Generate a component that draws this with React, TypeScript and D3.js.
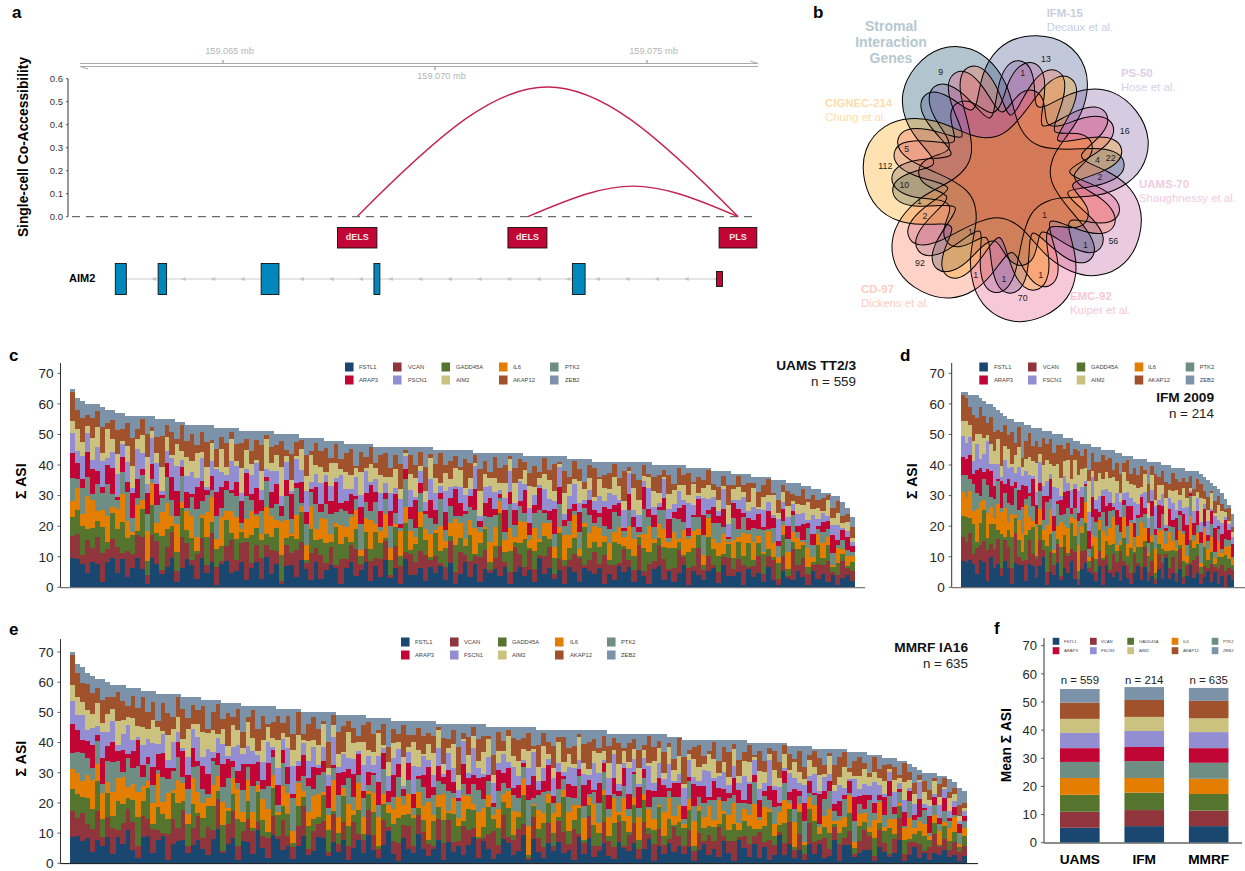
import React from "react";
import * as d3 from "d3";

const genes = ["FSTL1","VCAN","GADD45A","IL6","PTK2","ARAP3","FSCN1","AIM2","AKAP12","ZEB2"];
const geneColors = ["#1A476F","#90353B","#55752F","#E37E00","#6E8E84","#C10534","#938DD2","#CAC27E","#A0522D","#7B92A8"];

// Panels c, d, e: the totals are read from the outline of the bars, with fewer columns than patients.
// The per-gene digits are NOT measured: single patients cannot be read from the image, so they are
// hand-typed to imitate the spread of the bands, and each column is scaled to its total when drawn.
const uamsTotals = [65,62,61,60,60,60,59,58,58,57,57,56,56,56,56,56,56,55,55,55,55,54,54,53,53,53,53,53,53,52,52,52,52,52,51,51,51,51,51,51,51,50,50,50,50,50,49,49,49,49,49,48,48,48,48,47,47,47,47,47,47,46,46,46,46,46,46,46,46,46,46,46,46,45,45,45,45,45,45,45,45,44,44,44,44,44,44,44,44,44,44,43,43,43,43,43,43,43,43,43,42,42,42,42,42,41,41,41,41,41,41,41,41,41,41,41,41,40,40,40,40,40,40,40,39,39,39,39,39,38,38,38,38,37,37,37,37,36,36,36,36,35,35,35,34,34,34,33,33,32,32,31,31,30,30,28,26,23];
const uamsFSTL1 = [9,9,8,4,9,7,2,8,9,5,9,3,7,9,6,1,8,9,4,7,9,2,6,9,8,3,9,5,7,1,8,9,4,6,9,2,7,9,3,8,5,9,1,7,8,4,9,6,2,9,3,7,9,5,1,8,9,4,6,9,2,8,5,9,3,7,1,9,6,4,8,2,9,5,7,3,9,1,6,8,4,9,2,7,5,9,3,8,1,6,9,4,7,2,9,5,8,3,6,1,9,7,2,5,8,4,9,1,6,3,8,5,9,2,7,4,1,9,6,3,8,2,5,9,1,7,4,3,8,6,2,9,5,3,7,1,8,4,6,2,9,3,1,7,5,2,8,4,1,6,3,7,2,5,1,4,6,3];
const uamsVCAN = [7,8,3,9,5,8,10,4,6,9,2,8,5,7,10,3,6,9,1,7,8,4,10,5,2,9,6,3,8,7,1,5,9,4,7,10,2,6,8,3,9,5,1,7,4,10,6,2,8,5,9,3,7,1,8,4,6,10,2,5,7,3,9,6,1,8,5,2,10,4,7,9,3,6,1,5,8,4,10,2,6,3,9,7,1,5,8,2,4,10,6,3,8,5,1,7,9,2,4,6,3,8,10,1,5,7,2,9,4,6,1,8,3,5,10,2,7,4,6,9,1,5,8,3,6,2,9,4,7,1,5,3,8,2,6,9,1,4,7,3,5,8,2,6,1,9,3,7,4,2,6,5,8,1,4,7,3,5];
const uamsGADD45A = [6,8,10,3,7,5,9,2,8,6,10,4,7,1,9,5,8,3,10,6,2,7,9,4,8,1,6,10,3,7,5,9,2,8,4,1,10,6,7,3,5,9,8,2,6,4,10,1,7,3,6,8,2,10,5,9,1,7,3,6,4,10,8,1,5,7,3,9,2,6,10,5,1,8,4,7,2,9,6,3,10,1,5,8,3,6,9,4,7,2,5,10,1,7,4,8,3,6,9,2,5,7,1,10,6,3,8,4,2,9,7,1,5,6,3,8,4,9,2,5,10,7,3,1,6,8,4,2,9,5,7,1,6,3,8,4,10,2,5,7,3,1,6,9,4,2,8,5,3,1,7,4,6,2,5,3,1,4];
const uamsIL6 = [5,7,4,9,10,3,6,8,2,7,9,5,1,8,3,10,6,4,7,9,3,10,2,6,8,5,1,9,7,4,10,3,6,8,1,5,9,4,2,7,8,3,10,6,1,9,2,5,7,4,8,10,3,1,6,4,9,7,2,5,10,3,6,8,4,1,7,5,9,2,6,4,10,1,8,3,5,9,7,2,6,10,4,1,7,9,3,5,8,2,10,6,3,9,1,5,7,4,2,8,6,10,3,1,7,5,9,2,8,4,6,3,10,7,1,5,9,2,4,8,3,6,1,10,5,7,2,4,9,3,6,8,1,5,2,10,4,7,3,1,8,6,2,4,9,3,5,1,7,2,4,8,3,1,6,2,5,3];
const uamsPTK2 = [7,3,9,5,2,8,6,10,4,3,7,9,5,2,8,6,1,7,4,9,5,3,8,1,7,10,4,6,2,9,3,7,5,8,2,6,4,1,9,7,3,6,2,8,5,10,1,7,4,9,2,6,8,3,5,7,1,4,9,6,3,8,2,5,7,4,1,9,6,3,8,5,7,2,9,4,6,1,3,8,5,7,2,4,9,6,1,3,8,5,7,3,2,6,9,4,1,5,8,3,6,2,7,4,9,1,5,3,6,8,4,2,7,5,1,9,3,6,4,8,2,5,7,3,1,6,4,8,2,5,9,3,1,6,4,7,2,5,3,8,1,6,4,2,7,5,3,1,8,4,2,6,3,5,1,4,3,2];
const uamsARAP3 = [8,5,3,7,9,4,2,6,8,1,5,3,9,6,2,7,4,8,1,5,7,9,3,5,1,8,6,2,4,9,7,3,1,5,8,6,2,9,4,1,6,8,3,5,9,2,7,4,1,6,3,9,5,8,2,4,7,1,6,3,9,4,8,2,5,7,1,3,6,9,4,1,8,5,2,7,3,9,6,1,4,8,2,5,7,3,1,9,4,6,2,8,5,3,7,1,4,9,6,2,5,3,8,1,7,4,2,6,9,3,5,1,7,4,2,8,3,6,1,5,9,2,4,7,3,1,6,8,2,5,3,7,1,4,9,2,5,3,6,1,8,4,2,5,7,1,3,6,2,4,1,5,3,7,2,4,6,3];
const uamsFSCN1 = [6,4,8,5,3,7,9,2,5,8,4,6,2,9,5,3,7,8,1,4,6,9,2,5,8,3,7,1,4,9,5,2,8,6,3,1,7,9,4,2,8,5,3,6,1,9,4,7,2,5,8,3,6,1,9,5,2,7,4,8,1,5,9,3,6,2,7,4,8,1,5,3,9,6,2,8,4,1,7,5,3,9,2,6,4,8,1,5,7,3,9,2,6,4,1,8,5,3,7,2,6,9,4,1,5,3,8,2,7,4,1,6,9,3,5,2,7,4,1,8,5,3,6,2,9,4,1,7,5,3,2,8,6,1,4,7,3,5,2,6,4,1,8,3,5,2,6,4,1,7,3,5,2,4,6,1,3,2];
const uamsAIM2 = [4,7,5,2,8,6,3,9,4,7,1,5,8,3,6,9,2,4,7,5,1,8,3,6,4,9,2,7,5,1,8,3,6,2,9,5,4,1,7,8,3,6,9,2,4,1,7,5,8,3,6,1,9,4,2,7,5,3,8,1,6,4,9,2,5,7,3,1,8,6,2,4,9,5,1,7,3,6,8,2,4,1,9,5,3,7,2,6,4,8,1,5,9,3,2,6,8,4,1,7,5,2,9,3,6,1,8,4,2,7,5,3,1,9,6,2,4,8,3,1,7,5,2,6,3,9,1,4,7,2,5,1,8,3,6,2,4,7,1,5,3,8,2,4,6,1,5,3,7,2,4,1,6,3,5,2,4,2];
const uamsAKAP12 = [9,6,8,3,7,5,9,2,6,8,4,7,10,3,5,8,1,6,9,4,7,2,8,5,10,3,6,9,1,7,4,8,2,6,9,3,5,7,10,1,6,4,8,2,9,5,3,7,1,8,6,10,2,5,3,8,9,1,7,4,6,2,10,8,3,5,7,1,9,4,6,8,2,5,10,3,7,4,1,9,6,3,8,5,2,10,4,7,1,6,9,3,5,8,2,6,4,10,1,7,3,8,5,2,6,9,1,4,7,5,3,10,2,6,8,4,1,7,5,3,9,2,6,4,8,1,5,3,7,2,6,4,9,1,5,3,8,2,6,4,7,1,5,3,8,2,4,6,1,5,3,7,2,4,5,3,4,5];
const uamsZEB2 = [1,4,6,3,5,2,7,4,3,6,5,2,8,4,1,6,3,7,5,2,4,6,1,5,3,7,2,6,4,8,3,5,1,6,4,2,7,3,5,1,6,4,2,5,7,3,1,6,4,2,5,3,7,1,6,4,2,8,3,5,1,6,4,2,7,3,5,1,4,6,2,7,3,5,1,6,4,2,8,3,5,1,6,3,7,2,4,5,1,6,3,2,7,4,5,1,6,3,2,5,8,1,4,6,3,2,7,4,5,1,6,3,2,5,7,1,4,6,3,2,5,7,1,4,2,6,3,5,1,4,7,2,6,3,1,5,4,2,6,3,1,5,7,2,4,3,6,1,5,2,4,3,1,5,2,6,3,5];

// Panel d
const ifmTotals = [64,64,63,63,63,62,61,60,60,59,58,57,56,55,55,54,54,54,53,53,52,52,52,51,51,51,50,50,50,49,49,49,48,48,47,47,47,46,46,46,45,45,45,45,44,44,43,43,43,42,42,42,42,41,41,41,41,40,40,40,39,39,39,39,38,38,38,38,37,36,35,34,33,32,31,29,27,24];
const ifmFSTL1 = [9,8,9,7,4,9,8,2,9,6,8,3,9,7,1,8,9,5,2,9,7,3,8,9,1,6,4,9,2,8,5,9,3,1,7,9,4,6,2,8,1,9,5,3,7,2,9,4,1,6,8,3,9,2,5,1,7,4,9,3,6,2,8,1,5,9,3,7,1,4,6,2,5,1,3,0,4,3];
const ifmVCAN = [8,6,9,3,8,5,7,10,4,6,9,2,7,8,5,10,3,1,7,9,4,6,10,2,5,8,3,7,1,9,6,4,10,2,7,5,1,8,3,6,9,4,1,7,5,10,2,6,3,8,1,5,9,3,7,2,6,8,1,4,7,3,9,2,5,1,6,8,3,4,1,7,2,5,3,6,2,4];
const ifmGADD45A = [7,8,5,9,2,7,10,4,6,8,3,9,1,6,10,5,7,2,8,4,9,1,6,3,10,7,4,2,8,5,1,9,6,3,7,10,2,5,4,8,1,6,9,3,5,2,10,4,7,1,6,8,3,5,9,2,4,7,1,6,3,8,2,5,1,9,4,6,2,7,3,5,1,4,2,6,3,2];
const ifmIL6 = [8,6,9,4,10,7,3,8,5,2,9,6,10,3,7,1,8,4,10,5,2,9,6,3,8,10,1,5,7,4,9,2,6,10,3,8,1,5,7,4,10,2,6,8,3,1,9,5,7,2,4,10,6,1,3,8,5,9,2,7,4,1,6,8,3,10,2,5,1,7,4,6,2,5,1,3,4,2];
const ifmPTK2 = [6,7,4,8,5,2,7,9,3,6,8,1,5,7,3,9,4,6,2,8,5,1,7,3,9,4,6,8,2,5,7,1,4,9,3,6,2,8,5,1,7,4,6,2,9,3,5,8,1,4,7,2,6,3,9,5,1,8,4,2,6,3,7,1,5,8,2,4,6,1,3,5,2,4,1,3,2,1];
const ifmARAP3 = [6,5,8,3,7,9,2,5,8,4,1,7,3,9,6,2,8,5,4,1,9,6,3,7,2,8,5,1,4,9,6,2,7,3,8,1,5,9,4,2,6,8,3,1,7,5,2,9,4,6,1,8,3,5,7,2,9,4,1,6,3,8,2,5,9,1,4,7,3,6,2,5,8,1,4,7,3,5];
const ifmFSCN1 = [7,5,6,4,8,3,6,9,2,7,5,1,8,4,6,3,9,2,5,7,1,4,8,3,6,2,9,5,1,7,3,6,2,8,4,1,5,9,3,6,2,7,4,1,8,5,3,6,2,9,4,1,7,3,5,8,2,6,1,4,7,3,5,2,8,1,4,6,3,2,5,1,4,2,3,1,2,3];
const ifmAIM2 = [5,7,4,6,3,8,5,2,6,4,9,3,5,7,1,6,8,2,4,7,5,9,3,6,8,4,7,9,5,6,8,4,9,6,7,5,8,3,6,9,4,7,5,8,6,3,9,5,4,7,6,3,8,5,7,2,6,4,8,3,5,7,2,6,4,1,5,3,7,2,4,6,1,5,3,2,1,2];
const ifmAKAP12 = [9,7,6,8,5,9,7,4,8,6,3,9,7,5,10,4,8,2,6,9,5,7,3,8,6,10,4,7,9,5,6,8,4,9,5,7,3,8,6,4,9,5,7,2,8,6,4,9,3,7,5,8,2,6,4,9,3,7,5,2,8,4,6,3,7,5,2,6,4,3,5,1,4,3,2,1,4,2];
const ifmZEB2 = [1,2,4,6,7,3,5,6,4,8,7,5,3,6,4,7,2,8,5,3,6,4,7,2,5,3,6,4,3,5,2,6,3,4,5,2,7,3,5,6,2,4,3,6,5,7,3,2,5,4,6,3,5,7,2,4,6,3,5,7,2,4,6,3,5,2,6,4,3,5,6,3,5,2,3,4,1,5];

// Panel e
const mmrfTotals = [70,66,65,63,62,61,61,60,59,59,59,58,58,58,57,57,57,56,56,56,56,56,55,55,55,55,54,54,54,54,53,53,53,53,52,52,52,52,52,52,52,51,51,51,51,51,50,50,50,50,50,50,50,49,49,49,49,49,49,48,48,48,48,48,47,47,47,47,47,47,47,47,47,46,46,46,46,46,46,46,46,46,46,45,45,45,45,45,45,45,45,45,45,44,44,44,44,44,44,44,44,44,44,44,44,44,44,43,43,43,43,43,43,43,43,43,43,43,43,42,42,42,41,41,41,41,41,41,41,41,41,41,41,41,41,40,40,40,40,40,40,40,40,39,39,39,39,39,38,38,38,38,38,38,38,37,37,37,37,36,36,36,35,35,35,34,34,33,32,31,30,30,30,29,29,28,27,25,24];
const mmrfFSTL1 = [8,9,7,9,4,8,6,9,3,8,7,9,5,2,9,8,4,7,9,1,6,9,8,3,7,9,5,2,8,9,4,6,9,1,7,8,3,9,5,2,9,7,4,8,1,6,9,3,5,8,9,2,7,4,9,1,6,8,3,9,5,2,7,9,4,1,8,6,3,9,7,2,5,8,1,9,4,6,3,7,9,2,8,5,1,4,9,7,3,6,8,1,9,4,2,7,5,9,3,6,1,8,4,9,2,5,7,3,1,9,6,4,8,2,5,9,1,7,3,6,4,9,2,8,1,5,7,3,6,2,9,4,1,7,5,3,8,2,6,1,4,9,3,7,2,5,1,8,4,6,2,3,7,1,5,8,2,4,6,3,1,7,5,2,4,8,1,3,6,2,5,1,4,3,6,2,4,1,3];
const mmrfVCAN = [8,6,9,5,8,10,3,7,9,2,8,6,10,4,7,5,9,3,1,7,8,5,10,2,6,9,4,7,3,8,1,6,10,5,3,9,7,2,4,8,6,1,9,5,3,7,10,2,8,4,6,1,9,3,7,5,10,2,4,8,6,3,9,1,5,7,4,10,2,6,8,3,1,7,5,9,4,2,10,6,3,8,1,5,7,4,9,2,6,10,3,1,8,5,4,7,2,9,6,3,10,1,5,8,4,2,7,6,3,9,1,5,8,4,10,2,6,7,3,1,9,5,2,8,4,6,1,7,3,10,2,5,8,1,4,6,3,9,2,7,5,1,4,8,3,6,2,9,5,1,7,3,4,8,2,6,1,5,9,3,2,7,4,1,6,8,3,5,2,6,1,4,7,3,5,2,6,3,4];
const mmrfGADD45A = [7,8,5,9,7,10,6,8,4,9,7,3,8,10,5,9,2,7,6,4,8,10,3,6,9,1,7,5,8,2,10,4,6,9,3,7,1,8,5,2,9,6,4,10,1,7,3,8,5,2,9,6,1,4,10,7,3,8,2,5,9,1,6,4,7,10,3,5,8,2,6,1,9,4,7,3,10,5,2,8,6,1,4,9,3,7,5,10,2,6,8,1,4,3,9,7,5,2,10,6,3,8,1,4,7,5,9,2,6,3,10,1,7,4,8,2,5,9,3,6,1,7,4,10,2,8,5,3,6,1,9,4,7,2,5,8,3,1,6,10,4,2,7,5,1,8,3,6,9,2,4,7,1,5,3,8,2,6,4,1,7,3,5,9,2,4,6,1,3,5,8,2,4,1,6,3,5,2,4];
const mmrfIL6 = [6,7,5,8,10,6,9,4,8,7,10,3,6,9,5,2,8,10,4,7,1,9,6,3,10,8,5,2,7,4,9,1,6,10,3,8,5,2,7,9,4,1,6,10,3,8,2,5,9,7,1,4,10,6,3,8,2,9,5,1,7,10,4,2,6,8,3,9,1,5,7,10,2,4,8,1,6,3,9,5,2,10,7,4,1,8,3,6,9,2,5,10,1,7,4,3,8,6,2,9,5,1,10,3,7,4,2,8,6,1,9,5,3,10,2,7,4,1,8,6,3,9,1,5,10,2,4,7,3,8,1,6,9,2,4,5,10,3,7,1,6,4,8,2,9,3,1,5,7,2,4,10,1,6,3,8,2,5,4,1,7,9,2,3,6,1,5,8,2,4,6,1,3,5,2,4,7,1,3];
const mmrfPTK2 = [5,7,9,6,4,8,3,7,10,5,2,8,6,9,3,5,7,1,8,4,6,9,2,7,4,10,5,1,8,3,6,9,4,2,7,5,8,1,3,9,6,2,7,4,8,1,5,9,3,6,7,2,4,8,1,9,5,3,6,2,7,4,9,1,5,8,3,6,2,4,9,1,7,5,3,8,2,6,4,1,7,9,3,5,2,8,4,1,6,7,3,9,2,5,8,1,4,6,3,7,2,9,5,1,4,8,6,3,1,7,5,2,9,4,6,1,8,3,5,2,7,4,1,9,6,3,5,2,8,1,4,7,3,6,2,5,9,1,4,3,8,2,6,1,5,3,7,2,4,1,6,8,3,2,5,1,7,4,2,6,3,1,5,8,2,4,1,6,3,2,7,1,4,3,5,2,1,4,3];
const mmrfARAP3 = [9,7,4,6,8,2,9,5,7,3,8,1,6,9,4,2,7,5,8,3,1,6,9,4,7,2,8,5,1,3,9,6,2,4,8,1,7,5,3,9,2,6,4,8,1,5,7,3,9,2,4,6,1,8,5,3,9,7,2,4,1,8,6,3,9,5,2,7,4,1,6,8,3,5,2,9,4,1,7,6,3,5,8,2,1,9,4,7,3,6,1,5,8,2,4,9,3,7,1,6,4,2,9,5,1,8,3,6,4,2,7,5,1,9,3,6,2,8,4,1,5,7,3,2,9,4,6,1,8,3,5,2,7,4,1,9,3,6,2,5,8,1,4,3,7,2,6,5,1,9,3,4,2,7,1,5,8,3,6,1,4,2,8,5,3,1,6,4,2,7,1,5,3,2,6,1,4,3,2];
const mmrfFSCN1 = [7,5,8,4,6,3,9,5,7,2,6,8,4,1,7,5,9,3,6,2,8,4,1,5,7,9,3,6,2,4,8,1,5,9,3,7,4,2,6,8,1,5,3,9,7,2,4,6,8,1,5,3,9,2,7,4,6,1,8,5,3,9,2,4,7,6,1,5,8,3,9,2,4,6,1,7,5,3,8,2,9,4,1,6,5,3,7,2,8,4,1,6,9,3,5,2,7,4,1,8,6,3,5,2,9,4,1,7,6,3,2,8,5,1,4,9,3,6,2,7,1,5,4,8,3,2,6,9,1,4,7,3,5,2,8,1,6,4,3,9,2,5,1,7,4,3,6,2,8,1,5,3,4,7,2,1,6,3,5,2,8,4,1,3,6,2,5,1,4,7,2,3,1,5,4,2,3,1,2];
const mmrfAIM2 = [5,6,4,7,5,8,3,6,4,7,5,2,8,4,6,3,9,5,1,7,4,6,3,8,2,5,9,4,7,1,6,3,8,5,2,9,4,1,7,6,3,8,2,5,4,9,1,7,3,6,8,2,4,5,1,9,6,3,7,2,5,8,1,4,6,3,9,2,7,5,1,4,8,6,3,2,9,5,1,7,4,3,8,6,2,5,1,9,4,7,3,6,1,5,8,2,4,9,3,6,1,7,5,2,4,8,3,6,1,9,5,2,4,7,3,1,8,6,2,5,4,9,1,3,7,5,2,6,8,1,4,3,7,2,5,9,1,6,4,2,8,3,5,1,6,4,2,7,3,5,1,8,2,4,6,3,1,5,7,2,4,3,6,1,5,2,8,3,4,1,6,2,5,3,1,4,3,2,1];
const mmrfAKAP12 = [9,8,6,9,7,5,8,6,4,9,7,3,8,6,10,5,7,2,9,6,4,8,10,3,7,5,9,1,6,8,4,10,3,7,5,2,9,6,8,1,5,7,3,10,4,8,2,6,9,5,1,7,3,8,10,4,6,2,5,9,7,1,8,4,6,3,10,5,2,7,9,3,6,1,8,4,5,10,2,7,3,9,6,1,5,8,4,2,7,10,3,6,1,8,5,4,9,2,7,3,6,1,8,10,4,2,5,7,3,9,1,6,4,8,2,10,5,3,7,1,4,9,6,2,5,8,3,1,7,4,6,10,2,5,3,8,1,7,4,2,9,5,3,6,1,8,4,2,7,5,3,1,6,9,4,2,5,8,3,1,6,4,7,2,5,1,8,3,4,2,6,3,1,5,4,2,3,4,2];
const mmrfZEB2 = [1,3,5,4,6,3,7,5,4,2,6,5,3,7,2,6,4,8,3,5,7,1,4,6,3,5,2,7,4,1,6,3,5,2,8,4,1,6,3,7,5,2,4,3,6,1,7,4,2,5,3,8,1,6,4,2,5,7,3,1,6,4,2,8,3,5,1,6,4,2,7,3,5,1,4,6,2,8,3,5,1,6,4,3,7,2,5,1,4,6,3,2,7,5,1,4,6,3,2,8,5,1,6,4,3,7,2,5,1,4,6,3,2,7,4,1,5,3,6,2,8,1,4,5,3,2,6,4,1,7,3,5,2,6,4,1,5,3,7,2,4,6,1,3,5,2,7,4,1,3,6,2,5,4,1,7,3,2,5,4,1,6,3,2,4,5,1,3,6,2,4,5,2,3,1,4,3,6,5];

// Panel f
const cohorts = ["UAMS","IFM","MMRF"];
const cohortN = [559,214,635];
const meanUAMS = [5.3,5.7,6,6,5.7,4.9,5.4,5,5.8,4.8];
const meanIFM = [5.9,5.7,6.2,5.2,6,5,5.7,5,6,4.6];
const meanMMRF = [5.9,5.5,5.9,5.4,5.7,5.2,5.7,4.9,6.2,4.6];

// Panel a
const linkStart = [159.06816,159.07219];
const linkEnd = [159.07715,159.07715];
const linkScore = [0.564,0.133];
const creNames = ["dELS","dELS","PLS"];
const creStart = [159.0677,159.07172,159.0767];
const creEnd = [159.06863,159.07264,159.07759];
const exonStart = [159.06246,159.06347,159.0659,159.06856,159.07324];
const exonEnd = [159.06272,159.06367,159.06632,159.0687,159.07354];
const utrStart = [159.07664];
const utrEnd = [159.07678];
const genomeTicks = [159.065,159.07,159.075];

// Panel b: one outline traced by eye and rotated seven times, so the inner lobes are approximate
const vennNames = ["Stromal","IFM-15","PS-50","UAMS-70","EMC-92","CD-97","CIGNEC-214"];
const vennColors = ["#003A58","#344884","#765298","#B64E91","#E4487A","#FC6941","#FC9F00"];
const vennCounts = [9,13,1,16,4,22,2,56,1,1,70,1,1,1,1,92,2,1,10,112,5];
const vennCountAt = [[392,215],[708,177],[638,218],[944,392],[862,480],[902,473],[870,530],[910,722],[826,735],[703,645],[638,895],[582,838],[692,824],[497,825],[481,697],[330,790],[345,647],[328,602],[283,554],[226,497],[290,446]];
const vennOutline: [number,number][] = [[-47,215],[-40,240],[-33,300],[-27,355],[-18,410],[-6,438],[7,445],[19,405],[27,345],[34,275],[39,205],[45,160],[55,135],[67,125],[80,130],[92,155],[102,215],[107,290],[112,340],[118,355],[124,340],[129,290],[134,215],[139,170],[146,215],[151,290],[156,340],[162,355],[168,340],[173,285],[178,215],[183,185],[190,215],[197,260],[205,275],[213,260],[220,215],[226,190],[235,215],[240,290],[246,340],[252,355],[258,340],[263,290],[268,215],[274,170],[281,215],[286,290],[291,340],[297,355],[303,340],[308,285]];

const FONT = "'Liberation Sans', Arial, sans-serif";
const T = (p: any) => <text fontFamily={FONT} {...p} />;

function Legend({ sx, tx, y1, y2, size, font }: any) {
  return <g>{genes.map((g, i) => {
    const c = i % 5, r = i < 5 ? y1 : y2;
    return <g key={g}>
      <rect x={sx[c]} y={r - size / 2} width={size * 0.95} height={size} fill={geneColors[i]} />
      <T x={tx[c]} y={r} dy="0.35em" fontSize={font} fill="#444">{g}</T>
    </g>;
  })}</g>;
}

function YAxis({ x, top, y, label, labelX, font, labelFont, baseEnd, baseColor, baseW }: any) {
  const y0 = y(0);
  return <g>
    <line x1={x} x2={x} y1={top} y2={y0} stroke="#333" strokeWidth={1} />
    {d3.range(0, 71, 10).map(v => <g key={v}>
      <line x1={x - 3} x2={x} y1={y(v)} y2={y(v)} stroke="#333" strokeWidth={0.8} />
      <T x={x - 7} y={y(v)} dy="0.36em" textAnchor="end" fontSize={font} fill="#262626">{v}</T>
    </g>)}
    <line x1={x} x2={baseEnd} y1={y0 + 0.3} y2={y0 + 0.3} stroke={baseColor} strokeWidth={baseW} />
    <T transform={`translate(${labelX},${(y(70) + y0) / 2 + 1}) rotate(-90)`} textAnchor="middle" fontSize={labelFont} fontWeight="bold" fill="#000">{label}</T>
  </g>;
}

function StackPanel({ totals, series, x0, x1, y0, y70 }: any) {
  const rows = totals.map((t: number, i: number) => {
    const vals = series.map((s: number[]) => s[i] ?? 0);
    const sum = d3.sum(vals);
    const row: any = { i };
    genes.forEach((g, k) => { row[g] = vals[k] * t / sum; });
    return row;
  });
  const stacked = d3.stack().keys(genes)(rows);
  const xs = d3.scaleBand<number>().domain(d3.range(totals.length)).range([x0, x1]).padding(0);
  const y = d3.scaleLinear().domain([0, 70]).range([y0, y70]);
  return <g shapeRendering="crispEdges">
    {stacked.map((layer: any, k: number) => <g key={k} fill={geneColors[k]}>
      {layer.map((d: any, i: number) => <rect key={i} x={xs(i)} width={xs.bandwidth() + 0.4} y={y(d[1])} height={Math.max(0, y(d[0]) - y(d[1]))} />)}
    </g>)}
  </g>;
}

function PanelA() {
  const gx = d3.scaleLinear().domain([159.065, 159.075]).range([223, 647]);
  const y = d3.scaleLinear().domain([0, 0.6]).range([216.7, 78.7]);
  const yG = 279;
  const arrows = d3.range(159.06335, 159.07664, 0.000698).filter(m => !exonStart.some((s, i) => m >= s - 0.00005 && m <= exonEnd[i] + 0.00005));
  return <g>
    <line x1={gx(159.06163)} x2={gx(159.07762)} y1={63.5} y2={63.5} stroke="#aaa" strokeWidth={1} />
    <line x1={gx(159.06163)} x2={gx(159.07762)} y1={66.5} y2={66.5} stroke="#aaa" strokeWidth={1} />
    <path d={`M${gx(159.06163)},66.5L${gx(159.06163) + 8},69`} stroke="#aaa" fill="none" />
    <path d={`M${gx(159.07762)},63.5L${gx(159.07762) - 8},61`} stroke="#aaa" fill="none" />
    {genomeTicks.map((m, i) => {
      const up = i !== 1;
      return <g key={m}>
        <line x1={gx(m)} x2={gx(m)} y1={up ? 60 : 66} y2={up ? 63 : 70} stroke="#999" strokeWidth={1.2} />
        <T x={gx(m) + 6.5} y={up ? 51 : 76} dy="0.35em" textAnchor="middle" fontSize={9.2} fill="#b5b5b5">{m.toFixed(3)} mb</T>
      </g>;
    })}
    <line x1={68} x2={68} y1={y(0.6)} y2={y(0)} stroke="#333" strokeWidth={1} />
    {d3.range(0, 7).map(i => <g key={i}>
      <line x1={66} x2={68} y1={y(i / 10)} y2={y(i / 10)} stroke="#333" strokeWidth={0.8} />
      <T x={63} y={y(i / 10)} dy="0.36em" textAnchor="end" fontSize={9.5} fill="#333">{(i / 10).toFixed(1)}</T>
    </g>)}
    <line x1={72} x2={756} y1={y(0)} y2={y(0)} stroke="#333" strokeWidth={0.9} strokeDasharray="8 6" />
    {linkScore.map((s, i) => {
      const a = gx(linkStart[i]), b = gx(linkEnd[i]), d = b - a, c = y(0) - (y(0) - y(s)) / 0.75;
      return <path key={i} d={`M${a},${y(0)}C${a + 0.45 * d},${c} ${a + 0.55 * d},${c} ${b},${y(0)}`} fill="none" stroke="#C4244F" strokeWidth={1.4} />;
    })}
    <T transform={`translate(27.5,147) rotate(-90)`} textAnchor="middle" fontSize={13.8} fontWeight="bold" fill="#000">Single-cell Co-Accessibility</T>
    {creNames.map((n, i) => <g key={i}>
      <rect x={gx(creStart[i])} y={227.5} width={gx(creEnd[i]) - gx(creStart[i])} height={20.5} fill="#C10534" stroke="#111" strokeWidth={0.9} />
      <T x={(gx(creStart[i]) + gx(creEnd[i])) / 2} y={237} dy="0.35em" textAnchor="middle" fontSize={9} fontWeight="bold" fill="#f3e3e6">{n}</T>
    </g>)}
    <line x1={gx(exonStart[0])} x2={gx(utrStart[0])} y1={yG} y2={yG} stroke="#ccc" strokeWidth={1.2} />
    {arrows.map((m, i) => <path key={i} d={`M${gx(m) + 3},${yG - 2}L${gx(m) - 1.5},${yG}L${gx(m) + 3},${yG + 2}Z`} fill="#c4c4c4" />)}
    {exonStart.map((s, i) => <rect key={i} x={gx(s)} y={263.5} width={gx(exonEnd[i]) - gx(s)} height={31} fill="#0087BC" stroke="#111" strokeWidth={0.9} />)}
    {utrStart.map((s, i) => <rect key={i} x={gx(s)} y={271.5} width={gx(utrEnd[i]) - gx(s)} height={15} fill="#C10534" stroke="#111" strokeWidth={0.9} />)}
    <T x={69} y={278.5} dy="0.35em" fontSize={11} fontWeight="bold" fill="#000">AIM2</T>
  </g>;
}

function PanelB() {
  const cx = 1008.3, cy = 176.7;
  const line = d3.line().curve(d3.curveBasisClosed);
  const pts = vennOutline.map(([a, r]) => {
    const t = (a * Math.PI) / 180;
    return [(r / 3) * Math.sin(t), -(r / 3) * Math.cos(t)] as [number, number];
  });
  const d = line(pts) as string;
  const setAngle = d3.scaleLinear().domain([0, 7]).range([17 - 360 / 7, 17 - 360 / 7 + 360]);
  const colorLabel = (b: string, s: string, x: number, y: number, col: string) => <g>
    <T x={x} y={y} dy="0.35em" fontSize={11.4} fontWeight="bold" fill={col}>{b}</T>
    <T x={x} y={y + 14} dy="0.35em" fontSize={11.4} fill={col}>{s}</T>
  </g>;
  return <g>
    {vennNames.map((n, i) => <path key={n} d={d} transform={`translate(${cx},${cy}) rotate(${setAngle(i)})`} fill={vennColors[i]} fillOpacity={0.3} stroke="none" />)}
    {vennNames.map((n, i) => <path key={n} d={d} transform={`translate(${cx},${cy}) rotate(${setAngle(i)})`} fill="none" stroke="#000" strokeWidth={1} />)}
    {vennCounts.map((v, i) => <T key={i} x={810 + vennCountAt[i][0] / 3} y={vennCountAt[i][1] / 3} dy="0.35em" textAnchor="middle" fontSize={8.8} fill="#222">{v}</T>)}
    {["Stromal", "Interaction", "Genes"].map((s, i) => <T key={s} x={891} y={26.5 + i * 16} dy="0.35em" textAnchor="middle" fontSize={14} fontWeight="bold" fill="#B5C8D0">{s}</T>)}
    {colorLabel("IFM-15", "Decaux et al.", 1046.7, 13, "#C9CEE0")}
    {colorLabel("PS-50", "Hose et al.", 1121, 73, "#DCCFE6")}
    {colorLabel("UAMS-70", "Shaughnessy et al.", 1139, 184, "#F0CCE2")}
    {colorLabel("EMC-92", "Kuiper et al.", 1070, 296, "#F9C6D6")}
    {colorLabel("CD-97", "Dickens et al.", 861, 289, "#FDCDBF")}
    {colorLabel("CIGNEC-214", "Chung et al.", 825, 103, "#FDDDAB")}
  </g>;
}

function PanelF() {
  const y = d3.scaleLinear().domain([0, 70]).range([842.7, 645.7]);
  const x = d3.scaleBand().domain(cohorts).range([1060, 1228.5]).paddingInner(0.385).paddingOuter(0);
  const byCohort = [meanUAMS, meanIFM, meanMMRF];
  const rows = cohorts.map((c, i) => {
    const r: any = { c };
    genes.forEach((g, k) => { r[g] = byCohort[i][k]; });
    return r;
  });
  const stacked = d3.stack().keys(genes)(rows);
  return <g>
    {stacked.map((layer: any, k: number) => <g key={k} fill={geneColors[k]}>
      {layer.map((d: any, i: number) => <rect key={i} x={x(cohorts[i])} width={x.bandwidth()} y={y(d[1])} height={y(d[0]) - y(d[1])} />)}
    </g>)}
    <YAxis x={1044} top={638} y={y} label="Mean Σ ASI" labelX={1011} font={13} labelFont={13.8} baseEnd={1242} baseColor="#666" baseW={1.3} />
    {cohorts.map((c, i) => <g key={c}>
      <T x={(x(c) as number) + x.bandwidth() / 2} y={680} dy="0.35em" textAnchor="middle" fontSize={11.4} fill="#222">n = {cohortN[i]}</T>
      <T x={(x(c) as number) + x.bandwidth() / 2} y={859.5} dy="0.35em" textAnchor="middle" fontSize={13.7} fontWeight="bold" fill="#000">{c}</T>
    </g>)}
    <Legend sx={[1052.7, 1090, 1127.3, 1171.7, 1211.7]} tx={[1064, 1101, 1139, 1183, 1223]} y1={641.3} y2={650.7} size={7} font={4.2} />
  </g>;
}

export default function App() {
  const yC = d3.scaleLinear().domain([0, 70]).range([587.3, 373.3]);
  const yE = d3.scaleLinear().domain([0, 70]).range([863.3, 652]);
  const uamsSeries = [uamsFSTL1, uamsVCAN, uamsGADD45A, uamsIL6, uamsPTK2, uamsARAP3, uamsFSCN1, uamsAIM2, uamsAKAP12, uamsZEB2];
  const ifmSeries = [ifmFSTL1, ifmVCAN, ifmGADD45A, ifmIL6, ifmPTK2, ifmARAP3, ifmFSCN1, ifmAIM2, ifmAKAP12, ifmZEB2];
  const mmrfSeries = [mmrfFSTL1, mmrfVCAN, mmrfGADD45A, mmrfIL6, mmrfPTK2, mmrfARAP3, mmrfFSCN1, mmrfAIM2, mmrfAKAP12, mmrfZEB2];
  const panelLabels: [string, number, number][] = [["a", 12, 12], ["b", 813, 12], ["c", 9, 355], ["d", 900, 355], ["e", 9, 629], ["f", 994, 628]];
  return <svg width={1245} height={871} style={{ position: "absolute", left: 0, top: 0, background: "#fff" }}>
    {panelLabels.map(([l, x, y]) => <T key={l} x={x} y={y} dy="0.35em" fontSize={17} fontWeight="bold" fill="#000">{l}</T>)}
    <PanelA />
    <PanelB />

    <StackPanel totals={uamsTotals} series={uamsSeries} x0={70} x1={855} y0={587.3} y70={373.3} />
    <YAxis x={60.5} top={363} y={yC} label="Σ ASI" labelX={26} font={13.6} labelFont={14} baseEnd={865} baseColor="#777" baseW={1.4} />
    <Legend sx={[345, 393, 441.5, 499, 550]} tx={[359, 408, 456, 513, 565]} y1={367} y2={380} size={9} font={5.8} />
    <T x={856} y={365} dy="0.35em" textAnchor="end" fontSize={13.7} fontWeight="bold" fill="#111">UAMS TT2/3</T>
    <T x={856} y={381} dy="0.35em" textAnchor="end" fontSize={13.4} fill="#222">n = 559</T>

    <StackPanel totals={ifmTotals} series={ifmSeries} x0={961} x1={1234} y0={587.3} y70={373.3} />
    <YAxis x={951.7} top={363} y={yC} label="Σ ASI" labelX={917} font={13.6} labelFont={14} baseEnd={1245} baseColor="#777" baseW={1.4} />
    <Legend sx={[979.3, 1028, 1076.7, 1134.7, 1185.7]} tx={[994, 1042.7, 1091, 1148, 1199.7]} y1={367} y2={380} size={9} font={5.8} />
    <T x={1214} y={397} dy="0.35em" textAnchor="end" fontSize={13.7} fontWeight="bold" fill="#111">IFM 2009</T>
    <T x={1214} y={413} dy="0.35em" textAnchor="end" fontSize={13.4} fill="#222">n = 214</T>

    <StackPanel totals={mmrfTotals} series={mmrfSeries} x0={70} x1={967} y0={863.3} y70={652} />
    <YAxis x={60.5} top={639} y={yE} label="Σ ASI" labelX={26} font={13.6} labelFont={14} baseEnd={978} baseColor="#111" baseW={1} />
    <Legend sx={[401, 450, 498, 555, 607]} tx={[415, 464, 512, 570, 621]} y1={642} y2={655} size={9} font={5.8} />
    <T x={968} y={647} dy="0.35em" textAnchor="end" fontSize={13.7} fontWeight="bold" fill="#111">MMRF IA16</T>
    <T x={968} y={663} dy="0.35em" textAnchor="end" fontSize={13.4} fill="#222">n = 635</T>

    <PanelF />
  </svg>;
}
